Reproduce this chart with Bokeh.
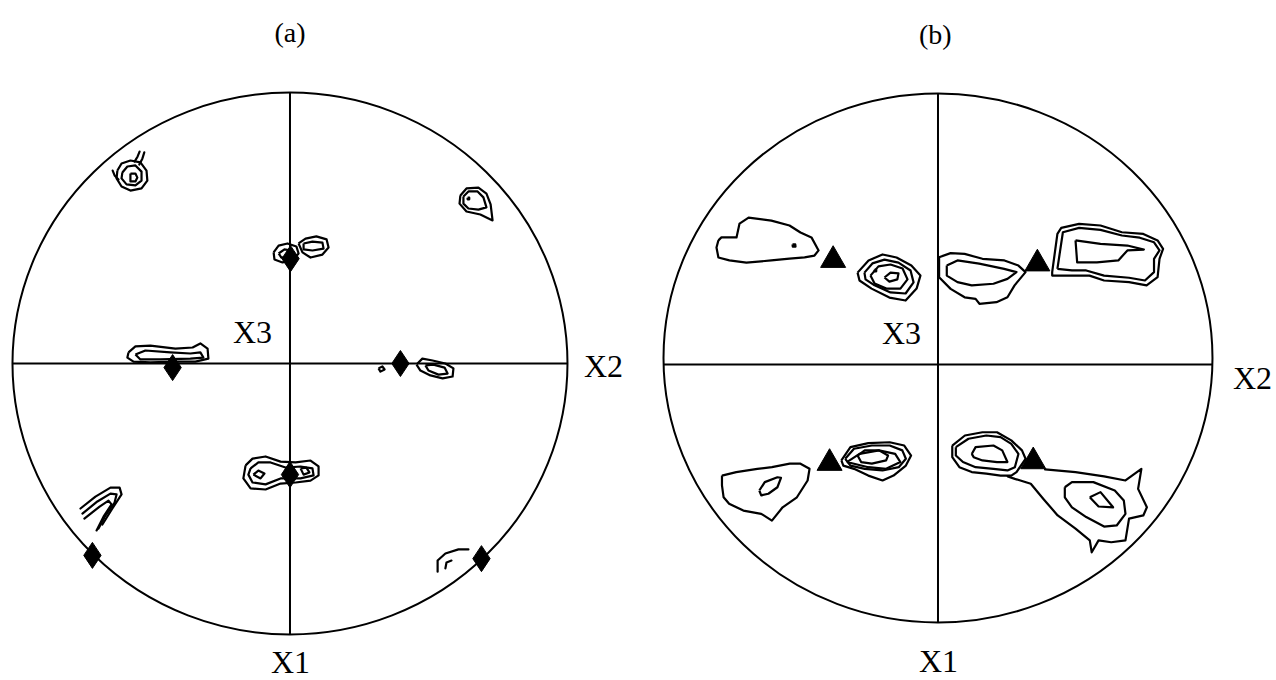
from bokeh.plotting import figure
from bokeh.layouts import row
from bokeh.embed import file_html
from bokeh.resources import INLINE
from bokeh.core.properties import value

# ---------------- data (pole-figure projection coordinates, unit circle) -------------
panel_titles = ["(a)", "(b)"]
axis_labels = ["X1", "X2", "X3"]

# panel (a): ideal orientations (diamonds)
a_diamond_x = [0.002, -0.423, 0.398, 0.000, -0.712, 0.690]
a_diamond_y = [0.387, -0.015, 0.000, -0.410, -0.708, -0.720]

# panel (b): ideal orientations (triangles)
b_triangle_x = [-0.382, 0.362, -0.395, 0.347]
b_triangle_y = [0.385, 0.372, -0.364, -0.358]

# projection boundary of each panel: (centre y, vertical diameter) in projection units
a_boundary = (0.0, 2.0)
b_boundary = (0.024, 1.952)

# panel (a) closed contour lines
a_closed = [
    # upper-left pole
    [(-0.622, 0.712), (-0.607, 0.738), (-0.575, 0.749), (-0.539, 0.742), (-0.517, 0.712),
     (-0.514, 0.675), (-0.535, 0.646), (-0.575, 0.638), (-0.607, 0.653), (-0.625, 0.683)],
    [(-0.604, 0.705), (-0.586, 0.727), (-0.557, 0.731), (-0.535, 0.708), (-0.535, 0.675),
     (-0.557, 0.657), (-0.589, 0.661), (-0.607, 0.683)],
    [(-0.575, 0.701), (-0.557, 0.701), (-0.550, 0.686), (-0.557, 0.672), (-0.575, 0.672)],
    # upper-right pole
    [(0.614, 0.620), (0.636, 0.646), (0.679, 0.649), (0.708, 0.627), (0.723, 0.587),
     (0.730, 0.528), (0.686, 0.550), (0.636, 0.561), (0.611, 0.590)],
    [(0.625, 0.616), (0.643, 0.635), (0.676, 0.635), (0.697, 0.613), (0.708, 0.576),
     (0.679, 0.568), (0.643, 0.572), (0.625, 0.590)],
    [(0.640, 0.612), (0.646, 0.612), (0.646, 0.606), (0.640, 0.606)],
    # top-centre pole (two lobes)
    [(-0.059, 0.410), (-0.041, 0.435), (-0.009, 0.443), (0.023, 0.432), (0.031, 0.406),
     (0.009, 0.380), (-0.027, 0.373), (-0.056, 0.384)],
    [(-0.041, 0.406), (-0.020, 0.421), (0.005, 0.417), (0.002, 0.395), (-0.031, 0.391)],
    [(0.031, 0.443), (0.056, 0.461), (0.095, 0.469), (0.132, 0.458), (0.139, 0.428),
     (0.117, 0.402), (0.074, 0.391), (0.045, 0.410)],
    [(0.049, 0.443), (0.081, 0.450), (0.117, 0.446), (0.121, 0.424), (0.081, 0.417),
     (0.049, 0.421)],
    # left pole on the X2 axis
    [(-0.582, 0.041), (-0.557, 0.063), (-0.503, 0.066), (-0.413, 0.055), (-0.351, 0.059),
     (-0.323, 0.074), (-0.297, 0.055), (-0.294, 0.018), (-0.341, 0.007), (-0.413, 0.007),
     (-0.503, 0.004), (-0.564, 0.007), (-0.586, 0.022)],
    [(-0.557, 0.033), (-0.521, 0.048), (-0.431, 0.041), (-0.359, 0.037), (-0.323, 0.041),
     (-0.312, 0.022), (-0.359, 0.018), (-0.467, 0.015), (-0.539, 0.015)],
    # right pole on the X2 axis
    [(0.456, -0.004), (0.477, 0.018), (0.514, 0.011), (0.560, 0.000), (0.589, -0.018),
     (0.586, -0.048), (0.550, -0.055), (0.506, -0.044), (0.470, -0.026)],
    [(0.488, -0.007), (0.517, -0.004), (0.557, -0.015), (0.568, -0.037), (0.535, -0.041),
     (0.499, -0.026)],
    [(0.319, -0.018), (0.333, -0.011), (0.341, -0.022), (0.326, -0.030)],
    # bottom-centre pole
    [(-0.160, -0.376), (-0.135, -0.351), (-0.088, -0.343), (-0.034, -0.362), (0.020, -0.365),
     (0.074, -0.358), (0.103, -0.380), (0.103, -0.413), (0.074, -0.432), (0.020, -0.439),
     (-0.034, -0.443), (-0.088, -0.465), (-0.142, -0.461), (-0.168, -0.424)],
    [(-0.142, -0.387), (-0.114, -0.365), (-0.070, -0.365), (-0.016, -0.384), (0.038, -0.380),
     (0.081, -0.387), (0.085, -0.413), (0.038, -0.424), (-0.034, -0.424), (-0.088, -0.446),
     (-0.135, -0.439), (-0.150, -0.410)],
    [(-0.132, -0.410), (-0.114, -0.395), (-0.092, -0.406), (-0.106, -0.424)],
    [(0.038, -0.387), (0.059, -0.384), (0.070, -0.402), (0.049, -0.410)],
]

# panel (a) open contour lines (cut by the projection edge)
a_open = [
    [(-0.560, 0.745), (-0.549, 0.764), (-0.542, 0.782)],
    [(-0.543, 0.734), (-0.532, 0.756), (-0.525, 0.779)],
    [(-0.618, 0.679), (-0.632, 0.694), (-0.639, 0.712)],
    [(-0.755, -0.535), (-0.701, -0.491), (-0.647, -0.458), (-0.614, -0.458), (-0.607, -0.483),
     (-0.640, -0.535), (-0.676, -0.594)],
    [(-0.748, -0.554), (-0.694, -0.509), (-0.647, -0.480), (-0.625, -0.483), (-0.632, -0.513),
     (-0.665, -0.561), (-0.690, -0.609)],
    [(-0.741, -0.572), (-0.686, -0.528), (-0.654, -0.506), (-0.643, -0.520), (-0.672, -0.565),
     (-0.697, -0.616)],
    [(0.532, -0.768), (0.532, -0.727), (0.560, -0.701), (0.607, -0.686), (0.643, -0.686)],
    [(0.560, -0.756), (0.564, -0.734), (0.582, -0.727)],
]

# panel (b) closed contour lines
b_closed = [
    # upper-left, far pole
    [(-0.800, 0.458), (-0.789, 0.469), (-0.734, 0.469), (-0.723, 0.520), (-0.690, 0.542),
     (-0.607, 0.531), (-0.541, 0.513), (-0.501, 0.487), (-0.461, 0.469), (-0.435, 0.421),
     (-0.450, 0.402), (-0.486, 0.395), (-0.541, 0.391), (-0.607, 0.384), (-0.698, 0.376),
     (-0.760, 0.384), (-0.800, 0.395), (-0.807, 0.432)],
    [(-0.530, 0.443), (-0.520, 0.443), (-0.519, 0.435), (-0.529, 0.435)],
    # upper-left, near pole (concentric)
    [(-0.293, 0.339), (-0.253, 0.384), (-0.202, 0.406), (-0.151, 0.395), (-0.097, 0.365),
     (-0.064, 0.328), (-0.078, 0.280), (-0.118, 0.236), (-0.177, 0.247), (-0.242, 0.280),
     (-0.286, 0.310)],
    [(-0.268, 0.339), (-0.239, 0.373), (-0.195, 0.387), (-0.144, 0.376), (-0.100, 0.347),
     (-0.089, 0.303), (-0.118, 0.262), (-0.173, 0.266), (-0.231, 0.292), (-0.264, 0.314)],
    [(-0.246, 0.328), (-0.217, 0.362), (-0.173, 0.369), (-0.129, 0.354), (-0.111, 0.314),
     (-0.137, 0.280), (-0.188, 0.280), (-0.231, 0.299)],
    [(-0.195, 0.321), (-0.173, 0.339), (-0.144, 0.336), (-0.148, 0.314), (-0.177, 0.306)],
    [(-0.231, 0.350), (-0.225, 0.350), (-0.225, 0.344), (-0.231, 0.344)],
    # upper-right, near pole
    [(0.004, 0.396), (0.046, 0.411), (0.097, 0.408), (0.162, 0.390), (0.242, 0.384),
     (0.293, 0.365), (0.319, 0.341), (0.279, 0.292), (0.253, 0.248), (0.213, 0.230),
     (0.151, 0.224), (0.137, 0.242), (0.097, 0.248), (0.046, 0.279), (0.004, 0.322)],
    [(0.032, 0.365), (0.071, 0.384), (0.150, 0.372), (0.241, 0.353), (0.286, 0.341),
     (0.253, 0.316), (0.202, 0.298), (0.123, 0.292), (0.071, 0.304), (0.032, 0.328)],
    # upper-right, far pole
    [(0.416, 0.341), (0.435, 0.482), (0.449, 0.504), (0.514, 0.519), (0.592, 0.513),
     (0.670, 0.488), (0.748, 0.482), (0.800, 0.458), (0.820, 0.427), (0.807, 0.390),
     (0.800, 0.322), (0.760, 0.292), (0.696, 0.304), (0.605, 0.310), (0.552, 0.328),
     (0.486, 0.328), (0.416, 0.328)],
    [(0.435, 0.353), (0.455, 0.488), (0.514, 0.504), (0.592, 0.497), (0.670, 0.476),
     (0.735, 0.468), (0.787, 0.451), (0.807, 0.421), (0.787, 0.390), (0.787, 0.341),
     (0.754, 0.310), (0.696, 0.320), (0.605, 0.328), (0.540, 0.347), (0.488, 0.347)],
    [(0.501, 0.458), (0.592, 0.445), (0.690, 0.439), (0.750, 0.424), (0.690, 0.421),
     (0.657, 0.384), (0.579, 0.377), (0.507, 0.377)],
    # lower-left, far pole
    [(-0.787, -0.410), (-0.735, -0.397), (-0.658, -0.385), (-0.605, -0.379), (-0.540, -0.366),
     (-0.501, -0.366), (-0.468, -0.385), (-0.475, -0.428), (-0.514, -0.490), (-0.566, -0.527),
     (-0.605, -0.576), (-0.644, -0.551), (-0.709, -0.539), (-0.761, -0.514), (-0.781, -0.490),
     (-0.787, -0.446)],
    [(-0.651, -0.465), (-0.631, -0.434), (-0.585, -0.416), (-0.572, -0.418), (-0.585, -0.453),
     (-0.618, -0.477), (-0.644, -0.483)],
    # lower-left, near pole
    [(-0.352, -0.354), (-0.319, -0.305), (-0.254, -0.290), (-0.176, -0.287), (-0.123, -0.299),
     (-0.098, -0.336), (-0.117, -0.373), (-0.162, -0.410), (-0.202, -0.428), (-0.254, -0.410),
     (-0.306, -0.385), (-0.345, -0.373)],
    [(-0.338, -0.348), (-0.306, -0.311), (-0.241, -0.299), (-0.176, -0.299), (-0.130, -0.317),
     (-0.117, -0.348), (-0.143, -0.379), (-0.202, -0.391), (-0.267, -0.385), (-0.319, -0.373)],
    [(-0.332, -0.360), (-0.286, -0.330), (-0.215, -0.317), (-0.156, -0.330), (-0.137, -0.360),
     (-0.189, -0.385), (-0.254, -0.379)],
    [(-0.293, -0.336), (-0.267, -0.317), (-0.215, -0.317), (-0.182, -0.336), (-0.189, -0.354),
     (-0.241, -0.366), (-0.280, -0.360)],
    # lower-right, near pole
    [(0.052, -0.299), (0.098, -0.262), (0.162, -0.250), (0.215, -0.250), (0.267, -0.280),
     (0.306, -0.317), (0.319, -0.348), (0.286, -0.397), (0.267, -0.410), (0.228, -0.410),
     (0.176, -0.403), (0.123, -0.397), (0.078, -0.379), (0.052, -0.342)],
    [(0.065, -0.305), (0.111, -0.274), (0.176, -0.262), (0.228, -0.268), (0.267, -0.293),
     (0.293, -0.330), (0.280, -0.379), (0.253, -0.391), (0.202, -0.385), (0.137, -0.379),
     (0.091, -0.360), (0.065, -0.336)],
    [(0.123, -0.330), (0.137, -0.305), (0.202, -0.299), (0.234, -0.317), (0.253, -0.360),
     (0.215, -0.360), (0.162, -0.354), (0.130, -0.342)],
    # lower-right, far pole
    [(0.462, -0.453), (0.488, -0.434), (0.566, -0.434), (0.644, -0.465), (0.677, -0.502),
     (0.683, -0.551), (0.651, -0.594), (0.605, -0.598), (0.540, -0.563), (0.488, -0.527),
     (0.462, -0.490)],
    [(0.553, -0.490), (0.592, -0.471), (0.638, -0.527), (0.585, -0.524)],
]

# panel (b) open contour line (outer level joining the two lower-right poles)
b_open = [
    [(0.390, -0.387), (0.501, -0.397), (0.605, -0.413), (0.683, -0.428), (0.741, -0.385),
     (0.729, -0.459), (0.761, -0.527), (0.748, -0.557), (0.696, -0.569), (0.683, -0.649),
     (0.631, -0.656), (0.585, -0.649), (0.560, -0.693), (0.553, -0.649), (0.501, -0.606),
     (0.436, -0.557), (0.384, -0.496), (0.338, -0.440), (0.280, -0.422), (0.254, -0.413)],
]

# ---------------- drawing ----------------
FONT = value("Liberation Serif")


def to_xy(lines, close):
    xs, ys = [], []
    for ln in lines:
        pts = list(ln) + ([ln[0]] if close else [])
        xs.append([p[0] for p in pts])
        ys.append([p[1] for p in pts])
    return xs, ys


def pole_panel(width, x_range, y_range, boundary, closed, open_, title, title_pos,
               x2_pos, x1_pos, x3_pos):
    p = figure(width=width, height=680, x_range=x_range, y_range=y_range,
               output_backend="svg", toolbar_location=None,
               x_axis_location=None, y_axis_location=None,
               min_border=0, tools="")
    p.grid.visible = False
    p.outline_line_color = None
    p.background_fill_color = "white"
    p.border_fill_color = "white"

    bc, bh = boundary
    top = bc + bh / 2
    bottom = bc - bh / 2
    # projection boundary and reference diameters
    p.ellipse(x=0, y=bc, width=2, height=bh, fill_color=None,
              line_color="black", line_width=2)
    p.segment(x0=[-1, 0], y0=[0, bottom], x1=[1, 0], y1=[0, top],
              line_color="black", line_width=2)

    cx, cy = to_xy(closed, True)
    p.multi_line(xs=cx, ys=cy, line_color="black", line_width=2.2,
                 line_join="round")
    ox, oy = to_xy(open_, False)
    p.multi_line(xs=ox, ys=oy, line_color="black", line_width=2.2,
                 line_join="round", line_cap="round")

    p.text(x=[title_pos[0]], y=[title_pos[1]], text=[title],
           text_font=FONT, text_font_size="28px", text_align="center",
           text_baseline="middle", text_color="black")
    p.text(x=[x1_pos[0], x2_pos[0], x3_pos[0]],
           y=[x1_pos[1], x2_pos[1], x3_pos[1]],
           text=axis_labels, text_font=FONT, text_font_size="32px",
           text_align="center", text_baseline="middle", text_color="black")
    return p


pa = pole_panel(640, (-1.0432, 1.2631), (-1.1697, 1.3395), a_boundary, a_closed, a_open,
                panel_titles[0], (0.0, 1.222),
                (1.130, -0.010), (0.002, -1.100), (-0.135, 0.116))
pa.scatter(x=a_diamond_x, y=a_diamond_y, marker="diamond", size=26,
           fill_color="black", line_color="black")

pb = pole_panel(636, (-1.0838, 1.2332), (-1.1661, 1.3432), b_boundary, b_closed, b_open,
                panel_titles[1], (-0.01, 1.218),
                (1.146, -0.048), (0.002, -1.094), (-0.133, 0.118))
pb.scatter(x=b_triangle_x, y=b_triangle_y, marker="triangle", size=25,
           fill_color="black", line_color="black")

layout = row(pa, pb)
open("out.html", "w").write(file_html(layout, INLINE))
